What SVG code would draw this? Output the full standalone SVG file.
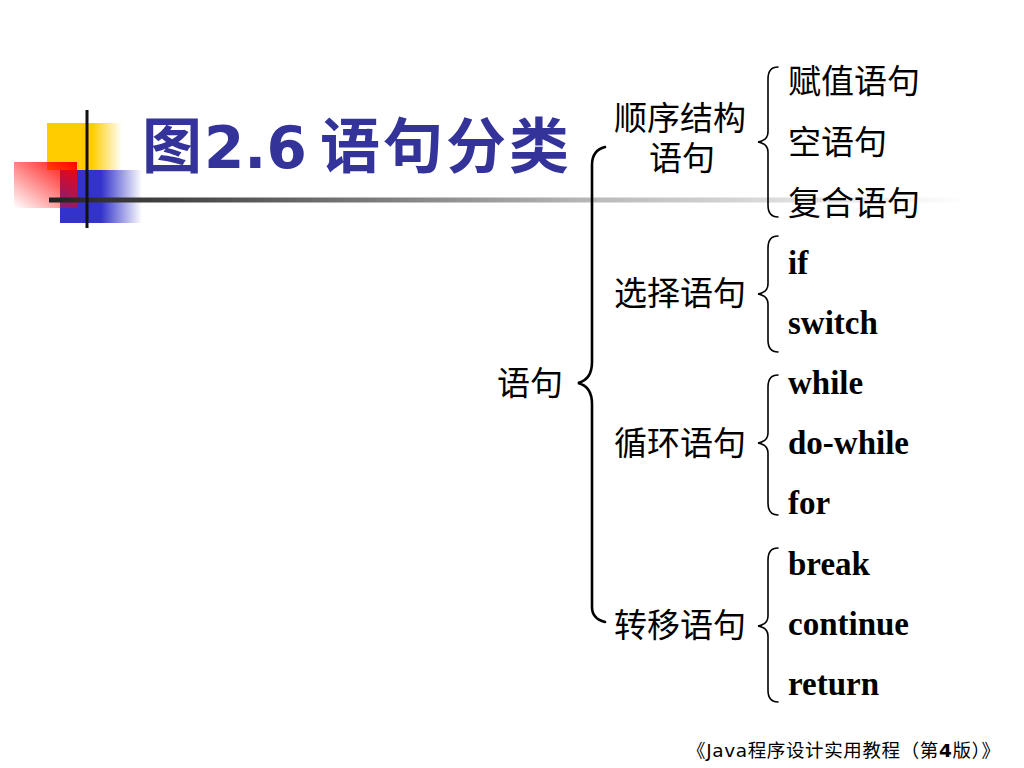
<svg xmlns="http://www.w3.org/2000/svg" width="1024" height="768" viewBox="0 0 1024 768">
<defs>
<linearGradient id="gy" x1="0" y1="0" x2="1" y2="0"><stop offset="0" stop-color="#FFCC00"/><stop offset="0.6" stop-color="#FFCC00"/><stop offset="1" stop-color="#FFCC00" stop-opacity="0"/></linearGradient>
<linearGradient id="gb" x1="0" y1="0" x2="1" y2="0"><stop offset="0" stop-color="#3333CC"/><stop offset="0.5" stop-color="#3333CC"/><stop offset="1" stop-color="#3333CC" stop-opacity="0"/></linearGradient>
<linearGradient id="gr" x1="0" y1="1" x2="1" y2="0"><stop offset="0" stop-color="#FF0000" stop-opacity="0"/><stop offset="1" stop-color="#FF0000"/></linearGradient>
<linearGradient id="gl" x1="0" y1="0" x2="1" y2="0"><stop offset="0" stop-color="#222222"/><stop offset="0.6" stop-color="#BBBBBB"/><stop offset="1" stop-color="#FFFFFF"/></linearGradient>
<style>
.cn{font-family:"Noto Sans CJK SC",sans-serif;font-size:33px;fill:#000}
.en{font-family:"Liberation Serif",serif;font-weight:bold;font-size:33px;fill:#000}
.br{fill:none;stroke:#000;stroke-width:1.6;stroke-linecap:round}
.title{font-family:"Liberation Sans","Noto Sans CJK SC",sans-serif;font-weight:bold;font-size:60px;fill:#333399}
.foot{font-family:"Noto Sans CJK SC",sans-serif;font-size:18.5px;fill:#000}
</style>
</defs>
<rect width="1024" height="768" fill="#fff"/>
<g id="decoration">
<rect x="47" y="123" width="75" height="47" fill="url(#gy)"/>
<rect x="60" y="170" width="82" height="53" fill="url(#gb)"/>
<rect x="14" y="162" width="63" height="46" fill="url(#gr)"/>
<rect x="49" y="197.5" width="920" height="5" fill="url(#gl)"/>
<rect x="85.5" y="110" width="3" height="118" fill="#111"/>
</g>
<g id="title">
<text class="title" y="168"><tspan x="142">图</tspan><tspan x="204" font-family="DejaVu Sans" font-size="58">2.6</tspan><tspan x="320 383 446 509">语句分类</tspan></text>
</g>
<g id="connectors">
<path d="M605,147 C597,149 592,155 592,165 L592,362 C592,376 586,381 578,383 C586,385 592,390 592,404 L592,607 C592,615 597,620 605,622" fill="none" stroke="#000" stroke-width="2.6" stroke-linecap="round"/>
<path class="br" d="M778,67 C771,67 768,71 768,79 L768,132 C768,138 764,141 758,142 C764,143 768,146 768,152 L768,205 C768,213 771,217 778,217"/>
<path class="br" d="M778,236 C771,236 768,240 768,248 L768,284 C768,290 764,293 758,294 C764,295 768,298 768,304 L768,340 C768,348 771,352 778,352"/>
<path class="br" d="M778,375 C771,375 768,379 768,387 L768,433 C768,439 764,442 758,443 C764,444 768,447 768,453 L768,503 C768,511 771,515 778,515"/>
<path class="br" d="M778,548 C771,548 768,552 768,560 L768,616 C768,622 764,625 758,626 C764,627 768,630 768,636 L768,690 C768,698 771,702 778,702"/>
</g>
<g id="root"><text class="cn" x="497" y="395">语句</text></g>
<g id="seq">
<text class="cn" x="614" y="130">顺序结构</text>
<text class="cn" x="649" y="170">语句</text>
</g>
<g id="seq-items">
<text class="cn" x="788" y="93">赋值语句</text>
<text class="cn" x="788" y="154">空语句</text>
<text class="cn" x="788" y="215">复合语句</text>
</g>
<g id="sel"><text class="cn" x="614" y="305">选择语句</text></g>
<g id="sel-items">
<text class="en" x="788" y="274">if</text>
<text class="en" x="788" y="334">switch</text>
</g>
<g id="loop"><text class="cn" x="614" y="455">循环语句</text></g>
<g id="loop-items">
<text class="en" x="788" y="394">while</text>
<text class="en" x="788" y="454">do-while</text>
<text class="en" x="788" y="514">for</text>
</g>
<g id="jump"><text class="cn" x="614" y="637">转移语句</text></g>
<g id="jump-items">
<text class="en" x="788" y="575">break</text>
<text class="en" x="788" y="635">continue</text>
<text class="en" x="788" y="695">return</text>
</g>
<g id="footer">
<text class="foot" x="687" y="757" textLength="313" lengthAdjust="spacing">《<tspan font-family="DejaVu Sans">Java</tspan>程序设计实用教程（第<tspan font-weight="bold" font-family="DejaVu Sans">4</tspan>版）》</text>
</g>
</svg>
